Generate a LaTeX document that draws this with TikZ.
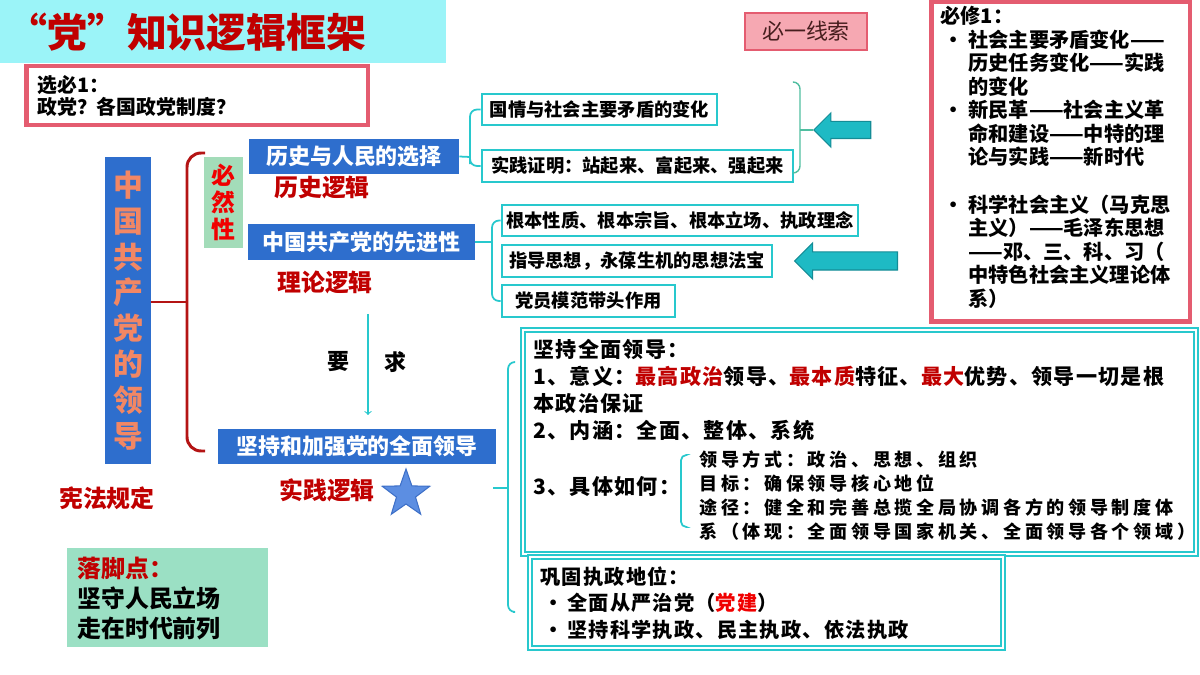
\documentclass[tikz,border=0pt]{standalone}
\usepackage{fontspec}
\setmainfont{Noto Sans CJK SC}
\usetikzlibrary{shapes.geometric,shapes.arrows}

\definecolor{titlebg}{RGB}{155,244,248}
\definecolor{darkred}{RGB}{192,0,0}
\definecolor{brightred}{RGB}{240,0,0}
\definecolor{pinkline}{RGB}{228,92,112}
\definecolor{pinkfill}{RGB}{246,168,178}
\definecolor{darktext}{RGB}{70,30,30}
\definecolor{boxblue}{RGB}{46,110,205}
\definecolor{salmon}{RGB}{242,135,100}
\definecolor{leafgreen}{RGB}{163,220,185}
\definecolor{mint}{RGB}{155,224,196}
\definecolor{cyanline}{RGB}{40,200,205}
\definecolor{tealline}{RGB}{80,190,160}
\definecolor{arrowfill}{RGB}{30,186,196}
\definecolor{arrowline}{RGB}{20,140,150}
\definecolor{starfill}{RGB}{92,142,226}
\definecolor{starline}{RGB}{62,112,200}
\definecolor{bracered}{RGB}{180,20,20}

\newcommand{\bul}[1]{\makebox[#1][l]{\hspace{2pt}•}}

\tikzset{
  bluebox/.style={fill=boxblue, text=white, inner sep=0pt, font=\bfseries\fontsize{12.5}{14}\selectfont},
  cyanbox/.style={draw=cyanline, line width=1.5pt, fill=white, inner sep=0pt, font=\bfseries\fontsize{10.4}{12}\selectfont},
  bigbox/.style={draw=cyanline, line width=0.85pt, double=white, double distance=1.4pt, inner sep=0pt},
  pinkbox/.style={draw=pinkline, line width=2.8pt, fill=white, inner sep=0pt},
  redlbl/.style={text=darkred, inner sep=0pt, font=\bfseries\fontsize{13.6}{15}\selectfont},
  txt/.style={inner sep=0pt, align=left, anchor=north west},
  cline/.style={draw=cyanline, line width=1pt, rounded corners=4},
  bigarrow/.style={single arrow, shape border rotate=180, fill=arrowfill, draw=arrowline, line width=0.6pt, inner xsep=0pt}
}

\begin{document}
\begin{tikzpicture}[x=0.02cm,y=-0.02cm]
\useasboundingbox (0,0) rectangle (1200,675);

\node[fill=titlebg, minimum width=8.92cm, minimum height=1.26cm, inner sep=0pt] (titlebar) at (223,31.5) {};
\node[anchor=west, inner sep=0pt, text=darkred, font=\bfseries\fontsize{22.7}{24}\selectfont] (title) at (7,32) {“党”知识逻辑框架};

\node[pinkbox, minimum width=6.83cm, minimum height=1.18cm] (xuanbi) at (197.25,95.5) {};
\node[txt, font=\bfseries\fontsize{11.3}{12.8}\selectfont] (xuanbitxt) at (37,75) {选必1：\\政党？各国政党制度？};

\node[fill=pinkfill, draw=pinkline, line width=0.8pt, minimum width=2.44cm, minimum height=0.74cm, inner sep=0pt, text=darktext, font=\fontsize{12.5}{14}\selectfont] (bixian) at (806,31.5) {必一线索};

\node[pinkbox, minimum width=5.17cm, minimum height=6.39cm] (bixiu) at (1060.75,161.75) {};
\node[txt, font=\bfseries\fontsize{11.5}{13.4}\selectfont] (bixiutxt) at (940,6) {必修1：\\
\bul{16pt}社会主要矛盾变化——\\
\hspace*{16pt}历史任务变化——实践\\
\hspace*{16pt}的变化\\
\bul{16pt}新民革——社会主义革\\
\hspace*{16pt}命和建设——中特的理\\
\hspace*{16pt}论与实践——新时代\\[13.4pt]
\bul{16pt}科学社会主义（马克思\\
\hspace*{16pt}主义）——毛泽东思想\\
\hspace*{16pt}——邓、三、科、习（\\
\hspace*{16pt}中特色社会主义理论体\\
\hspace*{16pt}系）};

\node[fill=boxblue, text=salmon, minimum width=0.92cm, minimum height=6.14cm, inner sep=0pt, align=center, font=\bfseries\fontsize{17}{20.4}\selectfont] (zggcd) at (128,310.5) {中\\国\\共\\产\\党\\的\\领\\导};

\coordinate (bmid) at (187,302);
\draw[bracered, line width=1.7pt, rounded corners=8] (205,153) -- (187,153) -- (187,451) -- (205,451);
\draw[bracered, line width=1.7pt] (bmid -| zggcd.east) -- (bmid);

\node[fill=leafgreen, minimum width=0.78cm, minimum height=1.82cm, inner sep=0pt, align=center, text=brightred, font=\bfseries\fontsize{13.6}{15.3}\selectfont] (biran) at (223.5,202.5) {必\\然\\性};

\node[bluebox, minimum width=4.2cm, minimum height=0.7cm] (lishi) at (354,156.5) {历史与人民的选择};
\node[bluebox, minimum width=4.54cm, minimum height=0.72cm] (xianjin) at (361.5,242) {中国共产党的先进性};
\node[bluebox, minimum width=5.56cm, minimum height=0.7cm] (jianchi) at (357,446.5) {坚持和加强党的全面领导};

\node[redlbl] (lsluoji) at (322,188) {历史逻辑};
\node[redlbl] (llluoji) at (325,282) {理论逻辑};
\node[redlbl] (sjluoji) at (327,490) {实践逻辑};
\node[redlbl] (xianfa) at (107,498) {宪法规定};

\node[star, star points=5, star point ratio=2.5, fill=starfill, draw=starline, line width=0.6pt, minimum size=1cm, inner sep=0pt] (xing) at (406,494) {};

\node[inner sep=0pt, font=\bfseries\fontsize{12.5}{14}\selectfont] (yao) at (338,362) {要};
\node[inner sep=0pt, font=\bfseries\fontsize{12.5}{14}\selectfont] (qiu) at (395,362) {求};
\coordinate (yqtop) at (368,314);
\coordinate (yqbot) at (368,415);
\draw[->, cyanline, line width=0.6pt] (yqtop) -- (yqbot);

\node[fill=mint, minimum width=4.02cm, minimum height=1.98cm, inner sep=0pt] (luojiao) at (167.5,597.5) {};
\node[txt, font=\bfseries\fontsize{13.6}{17}\selectfont] (luojiaotxt) at (77,557) {\textcolor{darkred}{落脚点：}\\坚守人民立场\\走在时代前列};

\node[cyanbox, minimum width=4.7cm, minimum height=0.62cm] (guoqing) at (599.5,109.5) {国情与社会主要矛盾的变化};
\node[cyanbox, minimum width=6.22cm, minimum height=0.64cm] (shijian) at (637.5,166) {实践证明：站起来、富起来、强起来};
\node[cyanbox, minimum width=7.12cm, minimum height=0.62cm] (genben) at (680,220.5) {根本性质、根本宗旨、根本立场、执政理念};
\node[cyanbox, minimum width=5.4cm, minimum height=0.64cm] (zhidao) at (637,261) {指导思想，永葆生机的思想法宝};
\node[cyanbox, minimum width=3.46cm, minimum height=0.64cm] (dangyuan) at (588.5,301) {党员模范带头作用};

\coordinate (lsfork) at (470,157);
\draw[cline] (lishi.east) -- (lsfork);
\draw[cline] (guoqing.west) -| (lsfork) |- (shijian.west);

\coordinate (xjfork) at (492,242);
\draw[cline] (xianjin.east) -- (xjfork);
\draw[cline] (genben.west) -| (xjfork) |- (dangyuan.west);

\node[bigarrow, minimum height=1.14cm, inner ysep=0.16cm, single arrow head extend=0.17cm] (arrowA) at (846.5,130) {};
\node[bigarrow, minimum height=2.06cm, inner ysep=0.17cm, single arrow head extend=0.18cm] (arrowB) at (850.5,261) {};

\coordinate (rbmid) at (800,130);
\draw[tealline, line width=0.8pt, rounded corners=4] (793,82) -- (800,82) -- (800,173) -- (793,173);
\draw[tealline, line width=0.8pt] (rbmid) -- (arrowA.tip);

\node[bigbox, minimum width=13.46cm, minimum height=4.48cm] (quanmian) at (859.5,442) {};
\node[bigbox, minimum width=9.46cm, minimum height=1.82cm] (gonggu) at (766.5,602.5) {};

\coordinate (jcfork) at (508,488);
\coordinate (jctail) at (493,488);
\draw[cline] (515,362) -- (508,362) -- (508,612) -- (513,612);
\draw[cline] (jctail) -- (jcfork);

\node[txt, font=\bfseries\fontsize{12}{15.3}\selectfont\addfontfeature{LetterSpace=6}] (qmtxt) at (533,339) {坚持全面领导：\\
1、意义：\textcolor{darkred}{最高政治}领导、\textcolor{darkred}{最本质}特征、\textcolor{darkred}{最大}优势、领导一切是根\\
本政治保证\\
2、内涵：全面、整体、系统};
\node[anchor=west, inner sep=0pt, font=\bfseries\fontsize{12}{15.3}\selectfont\addfontfeature{LetterSpace=6}] (ruhe) at (533,486) {3、具体如何：};
\coordinate (rhfork) at (681,491);
\draw[cline, rounded corners=3] (686,455) -- (681,455) -- (681,527) -- (686,527);
\draw[cline] (ruhe.east |- rhfork) -- (rhfork);
\node[txt, font=\bfseries\fontsize{10.3}{13.8}\selectfont\addfontfeature{LetterSpace=20}] (rhtxt) at (699,450) {领导方式：政治、思想、组织\\
目标：确保领导核心地位\\
途径：健全和完善总揽全局协调各方的领导制度体\\
系（体现：全面领导国家机关、全面领导各个领域）};

\node[txt, font=\bfseries\fontsize{11.5}{15.3}\selectfont\addfontfeature{LetterSpace=6}] (ggtxt) at (540,566) {巩固执政地位：\\
\bul{15.3pt}全面从严治党（\textcolor{brightred}{党建}）\\
\bul{15.3pt}坚持科学执政、民主执政、依法执政};
\end{tikzpicture}
\end{document}
